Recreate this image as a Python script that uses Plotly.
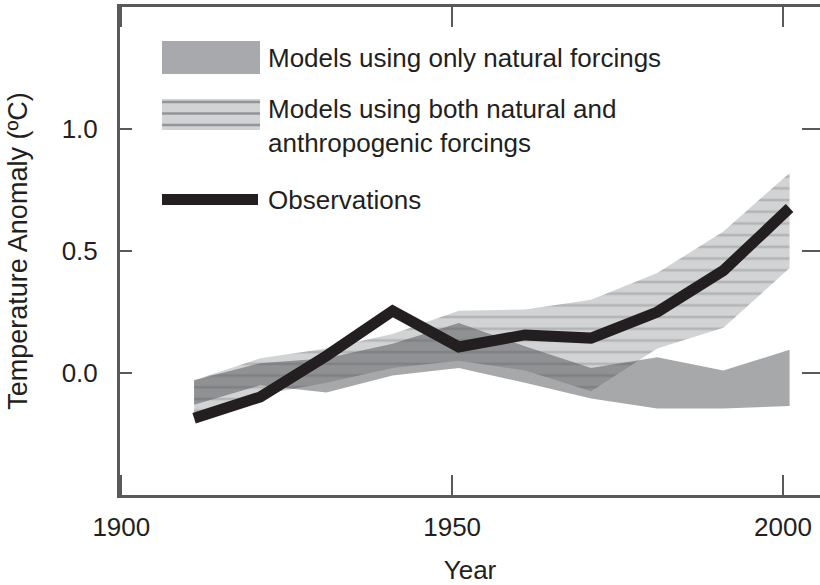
import plotly.graph_objects as go

# ---- data ----
years = [1911, 1921, 1931, 1941, 1951, 1961, 1971, 1981, 1991, 2001]
observations = [-0.185, -0.098, 0.07, 0.254, 0.107, 0.156, 0.143, 0.25, 0.42, 0.676]
natural_upper = [-0.03, 0.04, 0.06, 0.12, 0.205, 0.11, 0.02, 0.065, 0.01, 0.095]
natural_lower = [-0.13, -0.05, -0.08, -0.01, 0.02, -0.04, -0.105, -0.145, -0.145, -0.135]
both_upper = [-0.03, 0.06, 0.10, 0.16, 0.255, 0.26, 0.30, 0.41, 0.58, 0.82]
both_lower = [-0.17, -0.09, -0.04, 0.02, 0.05, 0.01, -0.075, 0.10, 0.185, 0.43]

x_ticks = [1900, 1950, 2000]
y_ticks = [0.0, 0.5, 1.0]
y_ticktext = ["0.0", "0.5", "1.0"]

legend_labels = [
    "Models using only natural forcings",
    "Models using both natural and<br>anthropogenic forcings",
    "Observations",
]

# ---- styling ----
W, H = 820, 585
ML, MR, MT, MB = 120, 0, 7, 90
FONT = "Liberation Sans, Arial, sans-serif"
TXT = "#231f20"
AX = "#58595b"
LIGHT = "#d1d3d4"
STRIPE = "#939598"
MID = "#a7a9ac"
NAT_FILL = "rgba(72,74,77,0.48)"
FS = 26

pw = W - ML - MR
ph = H - MT - MB


def px(x):
    return (x - ML) / pw


def py(y):
    return (H - MB - y) / ph


fig = go.Figure()

# both natural + anthropogenic band
fig.add_trace(go.Scatter(x=years, y=both_lower, mode="lines", line=dict(width=0),
                         showlegend=False, hoverinfo="skip"))
fig.add_trace(go.Scatter(x=years, y=both_upper, mode="lines", line=dict(width=0),
                         fill="tonexty", fillcolor=LIGHT,
                         fillpattern=dict(shape="-", bgcolor=LIGHT, fgcolor=STRIPE,
                                          size=11.7, solidity=0.22),
                         showlegend=False, hoverinfo="skip"))
# natural-only band
fig.add_trace(go.Scatter(x=years, y=natural_lower, mode="lines", line=dict(width=0),
                         showlegend=False, hoverinfo="skip"))
fig.add_trace(go.Scatter(x=years, y=natural_upper, mode="lines", line=dict(width=0),
                         fill="tonexty", fillcolor=NAT_FILL,
                         showlegend=False, hoverinfo="skip"))
# observations (on the overlaid right-hand y axis, same scale)
fig.add_trace(go.Scatter(x=years, y=observations, mode="lines", yaxis="y2",
                         line=dict(color=TXT, width=11),
                         showlegend=False, hoverinfo="skip"))

# ---- manual legend ----
shapes = [
    dict(type="rect", xref="paper", yref="paper", x0=px(162), x1=px(260), y0=py(74), y1=py(41),
         fillcolor=MID, line=dict(width=0)),
    dict(type="rect", xref="paper", yref="paper", x0=px(162), x1=px(260), y0=py(130), y1=py(99),
         fillcolor=LIGHT, line=dict(width=0)),
]
for sy in (102, 113.5, 125):
    shapes.append(dict(type="line", xref="paper", yref="paper", x0=px(162), x1=px(260),
                       y0=py(sy), y1=py(sy), line=dict(color=STRIPE, width=2.5)))
shapes.append(dict(type="line", xref="paper", yref="paper", x0=px(162), x1=px(258),
                   y0=py(199.5), y1=py(199.5), line=dict(color=TXT, width=11)))

annotations = []
for lbl, yc in zip(legend_labels, (58, 126.5, 199.5)):
    annotations.append(dict(text=lbl, xref="paper", yref="paper", x=px(266), y=py(yc),
                            xanchor="left", yanchor="middle", showarrow=False, align="left",
                            font=dict(family=FONT, size=FS, color=TXT)))

fig.update_layout(
    width=W, height=H, autosize=False,
    margin=dict(l=ML, r=MR, t=MT, b=MB, pad=0, autoexpand=False),
    paper_bgcolor="white", plot_bgcolor="white",
    font=dict(family=FONT, size=FS, color=TXT),
    shapes=shapes, annotations=annotations,
    xaxis=dict(range=[1899.8, 2005.6], tickvals=x_ticks, ticks="inside", ticklen=20,
               tickwidth=2, tickcolor=AX, showline=True, linewidth=3, linecolor=AX,
               mirror="ticks", showgrid=False, zeroline=False, automargin=False,
               ticklabelstandoff=7,
               title=dict(text="Year", standoff=20, font=dict(size=FS))),
    yaxis=dict(range=[-0.5, 1.5], tickvals=y_ticks, ticktext=y_ticktext, ticks="inside",
               ticklen=12, tickwidth=2, tickcolor=AX, showline=True, linewidth=3,
               linecolor=AX, showgrid=False, zeroline=False, ticklabelstandoff=14,
               automargin=False,
               title=dict(text="Temperature Anomaly (ºC)", standoff=27, font=dict(size=27))),
    yaxis2=dict(range=[-0.5, 1.5], tickvals=y_ticks, overlaying="y", side="right",
                ticks="inside", ticklen=18, tickwidth=2, tickcolor=AX, showline=False,
                showticklabels=False, showgrid=False, zeroline=False, automargin=False),
)

fig.write_html(
    "out.html",
    config={"displayModeBar": False},
    post_script="document.body.style.margin='0';document.body.style.overflow='hidden';",
)
